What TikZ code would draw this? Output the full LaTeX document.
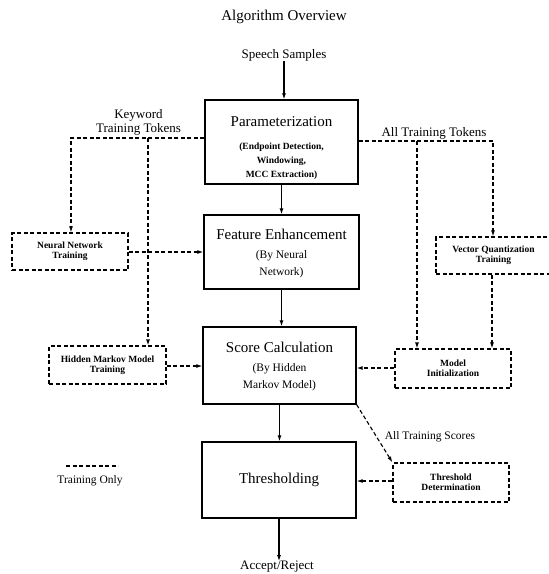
\documentclass[tikz,border=0pt]{standalone}
\usepackage{fontspec}
\setmainfont{Liberation Serif}
\usetikzlibrary{arrows.meta}
\begin{document}
\begin{tikzpicture}[x=1pt,y=-1pt,
  solidbox/.style={draw, line width=1.3pt, inner sep=0pt},
  dashbox/.style={draw, line width=1.1pt, dash pattern=on 4pt off 2.5pt, inner sep=0pt,
     align=center, font=\bfseries\fontsize{9.5}{10}\selectfont},
  dashl/.style={line width=1.1pt, dash pattern=on 4pt off 2.5pt},
  solidl/.style={line width=1.1pt},
  arr/.style={-{Latex[length=6pt,width=4pt]}},
  bigtxt/.style={font=\fontsize{15}{18}\selectfont, inner sep=0pt},
  labtxt/.style={font=\fontsize{13}{14}\selectfont, inner sep=0pt, align=center},
  smalltxt/.style={font=\fontsize{11.5}{12}\selectfont, inner sep=0pt},
  subtxt/.style={font=\fontsize{11.5}{17}\selectfont, inner sep=0pt, align=center},
  subbtxt/.style={font=\bfseries\fontsize{9.5}{14}\selectfont, inner sep=0pt, align=center}]
\useasboundingbox (0,0) rectangle (549,574);

% title and labels
\node[bigtxt] (title) at (284,17) {Algorithm Overview};
\node[labtxt] (speech) at (284,55) {Speech Samples};
\node[labtxt] (kwlab) at (138.5,122) {Keyword\\Training Tokens};
\node[labtxt] (alllab) at (434,133) {All Training Tokens};
\node[smalltxt] (scorelab) at (430,437) {All Training Scores};
\node[smalltxt] (leglab) at (90,481) {Training Only};
\node[labtxt] (accept) at (277,567) {Accept/Reject};

% main boxes
\node[solidbox, minimum width=153pt, minimum height=84pt] (param) at (281.5,142) {};
\node[bigtxt] (paramT) at (281.5,122) {Parameterization};
\node[subbtxt] (paramS) at (281.5,161) {(Endpoint Detection,\\Windowing,\\MCC Extraction)};

\node[solidbox, minimum width=155pt, minimum height=74pt] (fe) at (281.5,252) {};
\node[bigtxt] (feT) at (281.5,234) {Feature Enhancement};
\node[subtxt] (feS) at (281.5,264.5) {(By Neural\\Network)};

\node[solidbox, minimum width=153pt, minimum height=77pt] (sc) at (279.5,365.5) {};
\node[bigtxt] (scT) at (279.5,347) {Score Calculation};
\node[subtxt] (scS) at (279.5,377) {(By Hidden\\Markov Model)};

\node[solidbox, minimum width=154pt, minimum height=76pt, font=\fontsize{15}{18}\selectfont] (th) at (279,480) {Thresholding};

% training boxes
\node[dashbox, minimum width=116pt, minimum height=37pt] (nn) at (70,251.5) {Neural Network\\Training};
\node[dashbox, minimum width=117pt, minimum height=38pt] (hmm) at (107.5,365) {Hidden Markov Model\\Training};
\node[dashbox, minimum width=115pt, minimum height=37pt] (vq) at (493.5,255.5) {Vector Quantization\\Training};
\node[dashbox, minimum width=116pt, minimum height=39pt] (mi) at (453,368.5) {Model\\Initialization};
\node[dashbox, minimum width=116pt, minimum height=39pt] (td) at (451,482.5) {Threshold\\Determination};

% solid flow
\draw[solidl, arr] (speech.south) -- (speech.south |- param.north);
\draw[solidl, arr] (param.south) -- (param.south |- fe.north);
\draw[solidl, arr] (fe.south) -- (fe.south |- sc.north);
\draw[solidl, arr] (sc.south) -- (sc.south |- th.north);
\draw[solidl, arr] (th.south) -- (th.south |- accept.north);

% training flow
\coordinate (kl) at (71,138);
\coordinate (kb) at (148,138);
\draw[dashl, arr] (param.west |- kl) -- (kl) -- (kl |- nn.north);
\draw[dashl, arr] (kb) -- (kb |- hmm.north);
\coordinate (ar) at (493,141);
\coordinate (ab) at (417,141);
\draw[dashl, arr] (param.east |- ar) -- (ar) -- (ar |- vq.north);
\draw[dashl, arr] (ab) -- (ab |- mi.north);
\coordinate (vqx) at (492,0);
\draw[dashl, arr] (vq.south -| vqx) -- (mi.north -| vqx);

\coordinate (nny) at (0,252);
\draw[dashl, arr] (nn.east |- nny) -- (fe.west |- nny);
\coordinate (hmy) at (0,366);
\draw[dashl, arr] (hmm.east |- hmy) -- (sc.west |- hmy);
\coordinate (miy) at (0,368);
\draw[dashl, arr] (mi.west |- miy) -- (sc.east |- miy);
\coordinate (tdy) at (0,481);
\draw[dashl, arr] (td.west |- tdy) -- (th.east |- tdy);
\draw[dashl, arr] (sc.south east) -- (td.north west);

% legend
\coordinate (leg1) at (66,466);
\coordinate (leg2) at (118,466);
\draw[dashl] (leg1) -- (leg2);
\end{tikzpicture}
\end{document}
